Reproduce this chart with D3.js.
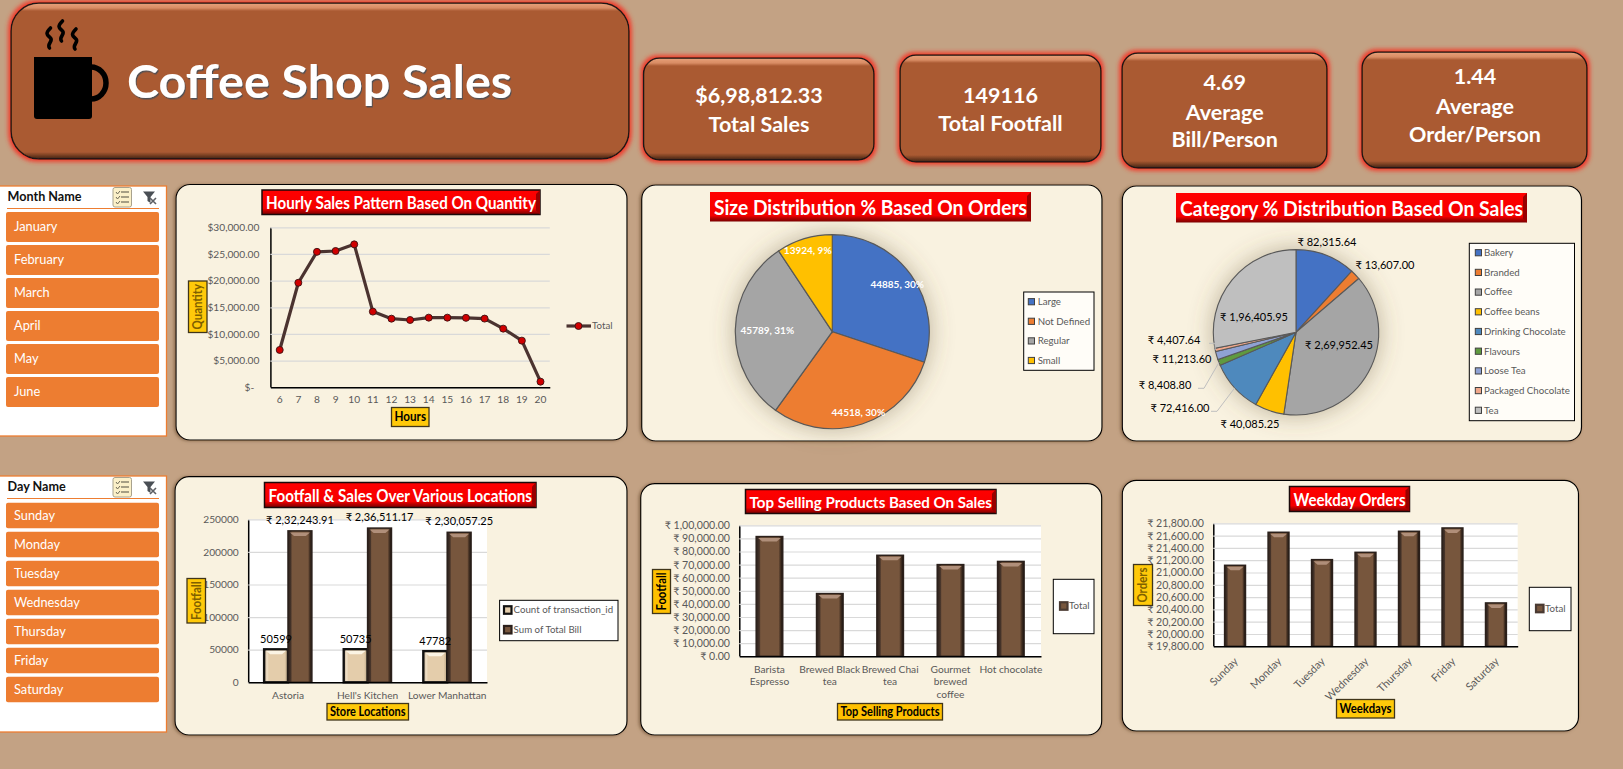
<!DOCTYPE html>
<html>
<head>
<meta charset="utf-8">
<script src="https://cdn.jsdelivr.net/npm/d3@7"></script>
<style>
  html, body { margin: 0; padding: 0; background: #c3a284; overflow: hidden; }
  svg { display: block; }
  text { font-family: Lato, "Open Sans", sans-serif; }
  .tick text { fill: #595959; }
  .grid .tick line { stroke: #d9d9d9; stroke-width: 1.2; }
</style>
</head>
<body>
<div id="chart"></div>
<script>
// chart values
const months = ['January', 'February', 'March', 'April', 'May', 'June'];
const days = ['Sunday', 'Monday', 'Tuesday', 'Wednesday', 'Thursday', 'Friday', 'Saturday'];

const hours = [6, 7, 8, 9, 10, 11, 12, 13, 14, 15, 16, 17, 18, 19, 20];
const hourQty = [7000, 19600, 25400, 25560, 26800, 14190, 12870, 12620, 13060, 13060, 13020, 12880, 11000, 8750, 1060];
const hourTicks = [0, 5000, 10000, 15000, 20000, 25000, 30000];

const sizes = ['Large', 'Not Defined', 'Regular', 'Small'];
const sizeOrders = [44885, 44518, 45789, 13924];
const sizePct = ['30%', '30%', '31%', '9%'];
const sizeColors = ['#4472c4', '#ed7d31', '#a5a5a5', '#ffc000'];

const categories = ['Bakery', 'Branded', 'Coffee', 'Coffee beans', 'Drinking Chocolate', 'Flavours', 'Loose Tea', 'Packaged Chocolate', 'Tea'];
const categorySales = [82315.64, 13607.00, 269952.45, 40085.25, 72416.00, 8408.80, 11213.60, 4407.64, 196405.95];
const categoryColors = ['#4472c4', '#ed7d31', '#a5a5a5', '#ffc000', '#4e89bd', '#5f9a3f', '#8fa2d4', '#f1a78a', '#bfbfbf'];

const stores = ['Astoria', "Hell's Kitchen", 'Lower Manhattan'];
const storeFootfall = [50599, 50735, 47782];
const storeSales = [232243.91, 236511.17, 230057.25];
const storeTicks = [0, 50000, 100000, 150000, 200000, 250000];

const products = [['Barista', 'Espresso'], ['Brewed Black', 'tea'], ['Brewed Chai', 'tea'], ['Gourmet', 'brewed', 'coffee'], ['Hot chocolate']];
const productSales = [91400, 47900, 77100, 70000, 72416];
const productTicks = [0, 10000, 20000, 30000, 40000, 50000, 60000, 70000, 80000, 90000, 100000];

const weekdayOrders = [21117, 21654, 21209, 21328, 21670, 21724, 20505];
const weekdayTicks = [19800, 20000, 20200, 20400, 20600, 20800, 21000, 21200, 21400, 21600, 21800];

const inr = v => '₹ ' + v.toLocaleString('en-IN', { minimumFractionDigits: 2, maximumFractionDigits: 2 });
const usd = v => v === 0 ? '$-\u00a0\u00a0' : '$' + v.toLocaleString('en-US', { minimumFractionDigits: 2 });

const svg = d3.select('#chart').append('svg').attr('width', 1623).attr('height', 769);
svg.append('rect').attr('width', 1623).attr('height', 769).attr('fill', '#c3a284');
const defs = svg.append('defs');

// filters
const glow = defs.append('filter').attr('id', 'glow').attr('x', '-5%').attr('y', '-10%').attr('width', '110%').attr('height', '120%');
glow.append('feMorphology').attr('in', 'SourceAlpha').attr('operator', 'dilate').attr('radius', 1.5).attr('result', 'd');
glow.append('feGaussianBlur').attr('in', 'd').attr('stdDeviation', 2).attr('result', 'b');
glow.append('feFlood').attr('flood-color', '#f23a2a').attr('result', 'c');
glow.append('feComposite').attr('in', 'c').attr('in2', 'b').attr('operator', 'in').attr('result', 's');
const glowMerge = glow.append('feMerge');
glowMerge.append('feMergeNode').attr('in', 's');
glowMerge.append('feMergeNode').attr('in', 'SourceGraphic');

const panelShadow = defs.append('filter').attr('id', 'panelShadow').attr('x', '-3%').attr('y', '-3%').attr('width', '106%').attr('height', '106%');
panelShadow.append('feDropShadow').attr('dx', -1.5).attr('dy', 0.5).attr('stdDeviation', 1.5).attr('flood-color', '#7d5f43').attr('flood-opacity', 0.8);

const pieShadow = defs.append('filter').attr('id', 'pieShadow').attr('x', '-30%').attr('y', '-30%').attr('width', '160%').attr('height', '160%');
pieShadow.append('feDropShadow').attr('dx', 0).attr('dy', 0).attr('stdDeviation', 12).attr('flood-color', '#6b5a3c').attr('flood-opacity', 0.45);

const titleShadow = defs.append('filter').attr('id', 'titleShadow').attr('x', '-5%').attr('y', '-20%').attr('width', '110%').attr('height', '140%');
titleShadow.append('feDropShadow').attr('dx', 1).attr('dy', 1.5).attr('stdDeviation', 0.6).attr('flood-color', '#47505a').attr('flood-opacity', 0.9);

// horizontal gradients for the bevelled bars
function barGradient(id, stops) {
  const g = defs.append('linearGradient').attr('id', id);
  stops.forEach(s => g.append('stop').attr('offset', s[0]).attr('stop-color', s[1]));
}
barGradient('brownBar', [[0, '#2b201b'], [0.12, '#453329'], [0.17, '#77563d'], [0.84, '#77563d'], [0.9, '#4b3526'], [1, '#16100c']]);
barGradient('creamBar', [[0, '#b9a388'], [0.12, '#efe0c8'], [0.2, '#e4cdab'], [0.85, '#e4cdab'], [1, '#b59f80']]);

let gradId = 0;
function bevelPanel(x, y, w, h, r) {
  const id = 'bevel' + (gradId++);
  const g = defs.append('linearGradient').attr('id', id).attr('x1', 0).attr('y1', 0).attr('x2', 0).attr('y2', 1);
  [[0, '#e8a27c'], [5 / h, '#d98c64'], [8 / h, '#aa5a32'], [1 - 7 / h, '#aa5a32'], [1 - 3 / h, '#6e3a20'], [1, '#3c2416']]
    .forEach(s => g.append('stop').attr('offset', s[0]).attr('stop-color', s[1]));
  return svg.append('rect').attr('x', x).attr('y', y).attr('width', w).attr('height', h).attr('rx', r)
    .attr('fill', `url(#${id})`).attr('stroke', '#1c1512').attr('stroke-width', 1.5).attr('filter', 'url(#glow)');
}

// header
bevelPanel(11, 3, 618, 156, 28);
const mug = svg.append('g');
mug.append('ellipse').attr('cx', 91).attr('cy', 83).attr('rx', 15).attr('ry', 16)
  .attr('fill', 'none').attr('stroke', '#000').attr('stroke-width', 5.5);
mug.append('path').attr('d', 'M34,57H92V116q0,3,-3,3H37q-3,0,-3,-3Z').attr('fill', '#000');
[[49.5, 28], [61.5, 21], [75, 29]].forEach(p => {
  mug.append('path')
    .attr('d', `M${p[0] + 1},${p[1]}c-6,6,-3,7,0,10c3,3,-4,6,-1,10`)
    .attr('fill', 'none').attr('stroke', '#000').attr('stroke-width', 3.6).attr('stroke-linecap', 'round');
});
svg.append('text').attr('x', 127).attr('y', 98).attr('font-size', 45).attr('font-weight', 700)
  .attr('fill', '#fff').attr('filter', 'url(#titleShadow)')
  .attr('textLength', 385).attr('lengthAdjust', 'spacingAndGlyphs').text('Coffee Shop Sales');

// KPI cards
function kpi(x, y, w, h, cx, lines) {
  bevelPanel(x, y, w, h, 16);
  lines.forEach(l => {
    svg.append('text').attr('x', cx).attr('y', l[1]).attr('dy', '0.35em').attr('text-anchor', 'middle')
      .attr('font-size', 21.5).attr('font-weight', 700).attr('fill', '#fff').text(l[0]);
  });
}
kpi(643.5, 58, 230.5, 102, 759, [['$6,98,812.33', 95.5], ['Total Sales', 124.5]]);
kpi(900, 55, 201, 107, 1000.5, [['149116', 95], ['Total Footfall', 123.5]]);
kpi(1122, 53, 205, 115, 1224.7, [['4.69', 82.5], ['Average', 112], ['Bill/Person', 139.5]]);
kpi(1362, 52, 225, 116, 1475, [['1.44', 76], ['Average', 106], ['Order/Person', 134]]);

// slicers
function slicer(y, h, title, items, btnTop, btnStep, btnH) {
  const g = svg.append('g');
  g.append('rect').attr('x', -2).attr('y', y).attr('width', 168.5).attr('height', h)
    .attr('fill', '#fff').attr('stroke', '#ed7d31').attr('stroke-width', 1.3);
  g.append('text').attr('x', 7.5).attr('y', y + 15).attr('font-size', 12.6).attr('font-weight', 700).attr('fill', '#111').text(title);
  g.append('line').attr('x1', 7).attr('x2', 159).attr('y1', y + 22.5).attr('y2', y + 22.5).attr('stroke', '#ed7d31').attr('stroke-width', 1.2);
  // multi-select button
  g.append('rect').attr('x', 113).attr('y', y + 1.5).attr('width', 18.5).attr('height', 19.5).attr('rx', 2)
    .attr('fill', '#fbf0c8').attr('stroke', '#a8a28e');
  [6, 11, 16].forEach(d => {
    g.append('path').attr('d', `M116,${y + d}l1.5,2l2.5,-3`).attr('fill', 'none').attr('stroke', '#6e6a58');
    g.append('line').attr('x1', 121).attr('x2', 129).attr('y1', y + d).attr('y2', y + d).attr('stroke', '#6e6a58').attr('stroke-width', 1.2);
  });
  // clear filter button
  g.append('path').attr('d', `M143,${y + 5.5}h12l-4.5,5.5v6l-3,-2v-4Z`).attr('fill', '#4a4f55');
  g.append('path').attr('d', `M150,${y + 12}l6,6m0,-6l-6,6`).attr('stroke', '#5d6065').attr('stroke-width', 1.6);
  g.selectAll('g.btn').data(items).join('g').attr('class', 'btn').each(function (d, i) {
    const b = d3.select(this);
    b.append('rect').attr('x', 6).attr('y', btnTop + i * btnStep).attr('width', 153).attr('height', btnH).attr('rx', 2).attr('fill', '#ed7d31');
    b.append('text').attr('x', 14).attr('y', btnTop + i * btnStep + btnH / 2).attr('dy', '0.35em')
      .attr('font-size', 12.8).attr('fill', '#fff').text(d);
  });
}
slicer(186, 250, 'Month Name', months, 212, 33, 30);
slicer(476, 256, 'Day Name', days, 502.8, 29, 25.5);

// shared chart pieces
function panel(x0, y0, x1, y1) {
  svg.append('rect').attr('x', x0).attr('y', y0).attr('width', x1 - x0).attr('height', y1 - y0).attr('rx', 14)
    .attr('fill', '#f9f2e0').attr('stroke', '#000').attr('stroke-width', 1.2).attr('filter', 'url(#panelShadow)');
}

function chartTitle(text, x0, x1, y0, y1, size, border) {
  const id = 'red' + (gradId++), h = y1 - y0;
  const g = defs.append('linearGradient').attr('id', id).attr('x1', 0).attr('y1', 0).attr('x2', 0).attr('y2', 1);
  [[0, '#ff0000'], [1 - 6 / h, '#f40000'], [1 - 3 / h, '#b00000'], [1, '#7c0000']]
    .forEach(s => g.append('stop').attr('offset', s[0]).attr('stop-color', s[1]));
  svg.append('rect').attr('x', x0).attr('y', y0).attr('width', x1 - x0).attr('height', h)
    .attr('fill', `url(#${id})`).attr('stroke', border ? '#1a0a0a' : 'none').attr('stroke-width', 1.5);
  svg.append('path').attr('d', `M${x1},${y0}l-4,4v${h - 8}l4,4Z`).attr('fill', '#990000');
  svg.append('text').attr('x', (x0 + x1) / 2).attr('y', (y0 + y1) / 2 + 1.2).attr('dy', '0.35em').attr('text-anchor', 'middle')
    .attr('font-size', size).attr('font-weight', 700).attr('fill', '#fff')
    .attr('textLength', x1 - x0 - 8).attr('lengthAdjust', 'spacingAndGlyphs').text(text);
}

function axisLabel(text, x0, x1, y0, y1, color, fill) {
  svg.append('rect').attr('x', x0).attr('y', y0).attr('width', x1 - x0).attr('height', y1 - y0)
    .attr('fill', fill || '#ffc90a').attr('stroke', '#40351a').attr('stroke-width', 1.3);
  const cx = (x0 + x1) / 2, cy = (y0 + y1) / 2, vertical = y1 - y0 > x1 - x0;
  svg.append('text').attr('transform', `translate(${cx},${cy})${vertical ? ' rotate(-90)' : ''}`)
    .attr('dy', '0.35em').attr('text-anchor', 'middle').attr('font-size', 12.5).attr('font-weight', 700)
    .attr('textLength', (vertical ? y1 - y0 : x1 - x0) - 6).attr('lengthAdjust', 'spacingAndGlyphs')
    .attr('fill', color || '#000').text(text);
}

function legend(x0, x1, y0, y1, fill) {
  svg.append('rect').attr('x', x0).attr('y', y0).attr('width', x1 - x0).attr('height', y1 - y0)
    .attr('fill', fill || '#fff').attr('stroke', '#000').attr('stroke-width', 1);
}
function legendItem(x, y, size, fill, stroke, textX, text) {
  svg.append('rect').attr('x', x).attr('y', y - size / 2).attr('width', size).attr('height', size)
    .attr('fill', fill).attr('stroke', stroke).attr('stroke-width', size > 7 ? 2.2 : 1);
  svg.append('text').attr('x', textX).attr('y', y).attr('dy', '0.35em').attr('font-size', 9.7).attr('fill', '#595959').text(text);
}

function yAxis(x, y, width, ticks, fmt, pad, size) {
  const g = svg.append('g').attr('class', 'grid').attr('transform', `translate(${x},0)`)
    .call(d3.axisLeft(y).tickValues(ticks).tickFormat(fmt).tickSize(-width).tickSizeOuter(0).tickPadding(pad));
  g.select('.domain').attr('stroke', '#000').attr('stroke-width', 1.5);
  g.selectAll('text').attr('font-size', size).attr('font-family', 'Lato, "Open Sans", sans-serif');
  return g;
}
function xAxis(yPos, x, size, pad) {
  const g = svg.append('g').attr('transform', `translate(0,${yPos})`).call(d3.axisBottom(x).tickSize(0).tickPadding(pad));
  g.select('.domain').attr('stroke', '#000').attr('stroke-width', 1.5);
  g.selectAll('text').attr('font-size', size).attr('font-family', 'Lato, "Open Sans", sans-serif');
  return g;
}

function bevelBar(x, w, yTop, yBase, gradient, stroke, strokeW, top) {
  svg.append('rect').attr('x', x).attr('y', yTop).attr('width', w).attr('height', yBase - yTop)
    .attr('fill', `url(#${gradient})`).attr('stroke', stroke).attr('stroke-width', strokeW);
  svg.append('path').attr('d', `M${x + 2},${yTop + 1.5}H${x + w - 2}l-4,3.5H${x + 6}Z`).attr('fill', top);
}

// hourly line
panel(176, 184.5, 627, 440);
chartTitle('Hourly Sales Pattern Based On Quantity', 262, 540, 190, 214.5, 16.5, true);
const hourX = d3.scaleBand().domain(hours).range([270.4, 549.8]);
const hourY = d3.scaleLinear().domain([0, 30000]).range([387.3, 227.3]);
yAxis(270.4, hourY, 279.4, hourTicks, usd, 11, 10.2);
xAxis(387.3, hourX, 10.2, 8);
const hourLine = d3.line().x((d, i) => hourX(hours[i]) + hourX.bandwidth() / 2).y(d => hourY(d));
svg.append('path').datum(hourQty).attr('d', hourLine).attr('fill', 'none').attr('stroke', '#4b3330').attr('stroke-width', 3.2).attr('stroke-linejoin', 'round');
svg.selectAll('circle.hour').data(hourQty).join('circle').attr('class', 'hour')
  .attr('cx', (d, i) => hourX(hours[i]) + hourX.bandwidth() / 2).attr('cy', d => hourY(d)).attr('r', 3.5)
  .attr('fill', '#d00000').attr('stroke', '#3a1212').attr('stroke-width', 0.9);
svg.append('line').attr('x1', 566.5).attr('x2', 591).attr('y1', 326).attr('y2', 326).attr('stroke', '#4b3330').attr('stroke-width', 3.2);
svg.append('circle').attr('cx', 578.5).attr('cy', 326).attr('r', 3.5).attr('fill', '#d00000').attr('stroke', '#3a1212').attr('stroke-width', 0.9);
svg.append('text').attr('x', 592).attr('y', 326).attr('dy', '0.35em').attr('font-size', 9.7).attr('fill', '#595959').text('Total');
axisLabel('Quantity', 188.5, 207, 281, 332.5, '#7f6000');
axisLabel('Hours', 391.5, 429, 407.5, 426.5);

// size pie
panel(641.7, 185, 1102, 441);
chartTitle('Size Distribution % Based On Orders', 710, 1031, 192, 221.5, 21, false);
const sizePie = d3.pie().sort(null)(sizeOrders);
const sizeG = svg.append('g').attr('transform', 'translate(832.3,331.7)');
const sizeArc = d3.arc().innerRadius(0).outerRadius(97);
sizeG.append('circle').attr('r', 97).attr('fill', '#999').attr('filter', 'url(#pieShadow)');
sizeG.selectAll('path').data(sizePie).join('path').attr('d', sizeArc)
  .attr('fill', (d, i) => sizeColors[i]).attr('stroke', '#595959').attr('stroke-width', 1.2);
const sizeLabelRadius = [80, 84.7, 65, 85];
sizeG.selectAll('text').data(sizePie).join('text')
  .attr('transform', (d, i) => `translate(${d3.arc().innerRadius(sizeLabelRadius[i]).outerRadius(sizeLabelRadius[i]).centroid(d)})`)
  .attr('dy', '0.35em').attr('text-anchor', 'middle').attr('font-size', 10).attr('font-weight', 700).attr('fill', '#fff')
  .text((d, i) => `${sizeOrders[i]}, ${sizePct[i]}`);
legend(1023.7, 1094, 292, 370.3, '#fffdf8');
sizes.forEach((s, i) => legendItem(1028.3, 301.7 + i * 19.6, 6.2, sizeColors[i], '#404040', 1037.7, s));

// category pie
panel(1122.3, 186, 1581.5, 441);
chartTitle('Category % Distribution Based On Sales', 1176, 1527, 193, 222.5, 21, false);
const catPie = d3.pie().sort(null)(categorySales);
const catG = svg.append('g').attr('transform', 'translate(1296,332.3)');
const catArc = d3.arc().innerRadius(0).outerRadius(82.7);
catG.append('circle').attr('r', 82.7).attr('fill', '#999').attr('filter', 'url(#pieShadow)');
catG.selectAll('path').data(catPie).join('path').attr('d', catArc)
  .attr('fill', (d, i) => categoryColors[i]).attr('stroke', '#595959').attr('stroke-width', 1.1);
// label centres relative to the pie centre
const catLabelAt = [[31, -90], [89, -67], [43, 13], [-46, 92], [-116, 76], [-131, 53], [-114, 27], [-122, 8], [-42, -15]];
const catEdge = d3.arc().innerRadius(82.7).outerRadius(82.7);
[[4, -85], [5, -98], [7, -87]].forEach(l => {
  const c = catEdge.centroid(catPie[l[0]]), y = catLabelAt[l[0]][1] + 3;
  catG.append('path').attr('d', `M${l[1]},${y}h6L${c[0]},${c[1]}`).attr('fill', 'none').attr('stroke', '#bfbfbf');
});
catG.selectAll('text').data(categorySales).join('text')
  .attr('x', (d, i) => catLabelAt[i][0]).attr('y', (d, i) => catLabelAt[i][1]).attr('dy', '0.35em')
  .attr('text-anchor', 'middle').attr('font-size', 11).attr('fill', '#000').text(d => inr(d));
legend(1469.3, 1574.5, 243.3, 420.7, '#fffdf8');
categories.forEach((c, i) => legendItem(1475.3, 252.7 + i * 19.7, 6.2, categoryColors[i], '#404040', 1484, c));

// footfall and sales by store
panel(175, 476.7, 627, 735);
chartTitle('Footfall & Sales Over Various Locations', 264.5, 536, 482.5, 507.5, 16.5, true);
const storeX = d3.scaleBand().domain(stores).range([248.2, 487]).paddingInner(0.4).paddingOuter(0.2);
const storeY = d3.scaleLinear().domain([0, 250000]).range([682.3, 519.3]);
svg.append('rect').attr('x', storeX.range()[0]).attr('y', storeY(250000)).attr('width', 238.8).attr('height', 163).attr('fill', '#fff');
yAxis(248.2, storeY, 238.8, storeTicks, d => String(d), 9.5, 10.2);
stores.forEach((s, i) => {
  const w = storeX.bandwidth() / 2, x = storeX(s);
  bevelBar(x, w, storeY(storeFootfall[i]), storeY(0), 'creamBar', '#111', 2.4, '#fbf4e4');
  bevelBar(x + w, w, storeY(storeSales[i]), storeY(0), 'brownBar', '#2b201b', 1.5, '#b08f7a');
  svg.append('text').attr('x', x + w / 2).attr('y', storeY(storeFootfall[i]) - 10).attr('dy', '0.35em').attr('text-anchor', 'middle')
    .attr('font-size', 11).attr('fill', '#000').text(storeFootfall[i]);
  svg.append('text').attr('x', x + w * 1.5).attr('y', storeY(storeSales[i]) - 11).attr('dy', '0.35em').attr('text-anchor', 'middle')
    .attr('font-size', 11).attr('fill', '#000').text(inr(storeSales[i]));
});
xAxis(682.3, storeX, 10.2, 9);
axisLabel('Footfall', 187, 205.5, 578.5, 623, '#7f6000');
axisLabel('Store Locations', 327, 408.5, 703.5, 720);
legend(499.6, 618, 600.3, 640.7);
legendItem(504, 610, 7.5, '#e4cdab', '#111', 513.6, 'Count of transaction_id');
legendItem(504, 629.7, 7.5, '#77563d', '#2b201b', 513.6, 'Sum of Total Bill');

// top selling products
panel(640.7, 483.7, 1101.7, 735);
chartTitle('Top Selling Products Based On Sales', 745.5, 996, 489.5, 513.5, 16, true);
const productX = d3.scaleBand().domain(products.map(p => p.join(' '))).range([739.3, 1041]).padding(0.56);
productX.paddingOuter(0.28);
const productY = d3.scaleLinear().domain([0, 100000]).range([656.3, 525.3]);
svg.append('rect').attr('x', 739.3).attr('y', 525.3).attr('width', 301.7).attr('height', 131).attr('fill', '#fff');
yAxis(739.3, productY, 301.7, productTicks, inr, 9.3, 10.6);
productSales.forEach((v, i) => {
  bevelBar(productX(products[i].join(' ')), productX.bandwidth(), productY(v), productY(0), 'brownBar', '#2b201b', 1.5, '#b08f7a');
});
const productAxis = xAxis(656.3, productX, 10.2, 9);
productAxis.selectAll('text').each(function (d, i) {
  const t = d3.select(this), x = t.attr('x') || 0, y = +t.attr('y');
  t.text(null);
  products[i].forEach((line, j) => t.append('tspan').attr('x', x).attr('y', y).attr('dy', `${0.71 + j * 1.27}em`).text(line));
});
axisLabel('Footfall', 652.5, 670.5, 569.5, 613.5, '#000', '#ffc000');
axisLabel('Top Selling Products', 837.5, 942.5, 703.5, 720, '#000', '#ffc000');
legend(1053.3, 1094, 579.3, 633.7);
legendItem(1060, 606, 7.5, '#77563d', '#4a3a32', 1069, 'Total');

// weekday orders
panel(1122.3, 480.3, 1578.5, 731);
chartTitle('Weekday Orders', 1289.5, 1409.5, 486.5, 511.5, 16.5, true);
const weekX = d3.scaleBand().domain(days).range([1213.3, 1517.7]).paddingInner(0.52).paddingOuter(0.26);
const weekY = d3.scaleLinear().domain([19800, 21800]).range([646.3, 523.3]);
svg.append('rect').attr('x', 1213.3).attr('y', 523.3).attr('width', 304.4).attr('height', 123).attr('fill', '#fff');
yAxis(1213.3, weekY, 304.4, weekdayTicks, inr, 9.3, 10.6);
weekdayOrders.forEach((v, i) => {
  bevelBar(weekX(days[i]), weekX.bandwidth(), weekY(v), weekY(19800), 'brownBar', '#2b201b', 1.5, '#b08f7a');
});
xAxis(646.3, weekX, 10.8, 9).selectAll('text')
  .attr('text-anchor', 'end').attr('dy', '0.35em').attr('y', 0)
  .attr('transform', 'translate(1,13) rotate(-45)');
axisLabel('Orders', 1133.5, 1152.5, 564.5, 605.5, '#7f6000');
axisLabel('Weekdays', 1336.5, 1394.5, 699.5, 718);
legend(1529.3, 1571, 587.3, 630.7);
legendItem(1536, 608.5, 7.5, '#77563d', '#4a3a32', 1545, 'Total');
</script>
</body>
</html>
